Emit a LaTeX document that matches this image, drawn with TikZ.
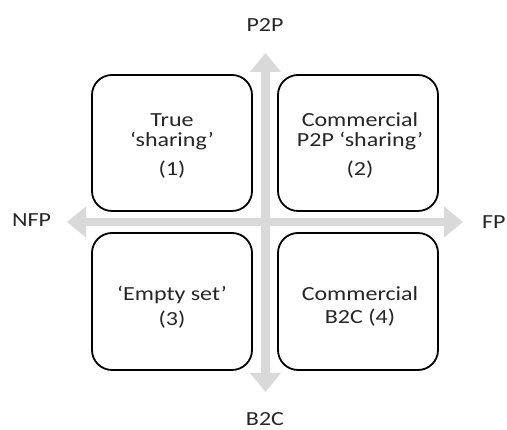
\documentclass[tikz,border=0pt]{standalone}
\usepackage{fontspec}
\setmainfont{Carlito}[FakeStretch=1.2]
\usetikzlibrary{arrows.meta}
\definecolor{axisgrey}{HTML}{D9D9D9}
\definecolor{txtgrey}{HTML}{262626}
\tikzset{
  quad/.style={draw=black, line width=1.8pt, rounded corners=20pt, fill=white,
    minimum width=160pt, minimum height=136pt, inner sep=0pt},
  qtext/.style={text=txtgrey, align=center, inner sep=0pt, anchor=north,
    font=\fontsize{20}{20}\selectfont},
  axlabel/.style={text=txtgrey, inner sep=0pt, anchor=base,
    font=\fontsize{20}{20}\selectfont},
  axis/.style={draw=axisgrey, line width=8.5pt,
    {Triangle[length=19pt,width=30pt]}-{Triangle[length=19pt,width=30pt]}}
}
\begin{document}
\begin{tikzpicture}[x=1pt,y=1pt]
\useasboundingbox (0,0) rectangle (507,430);
% axes
\coordinate (top) at (265.5,377);
\coordinate (bot) at (265.5,38);
\coordinate (lft) at (67,208);
\coordinate (rgt) at (463,208);
\draw[axis] (lft) -- (rgt);
\draw[axis] (bot) -- (top);
% quadrants
\node[quad] (q1) at (172,287) {};
\node[quad] (q2) at (358,287) {};
\node[quad, minimum height=137pt] (q3) at (172,128.5) {};
\node[quad, minimum height=137pt] (q4) at (358,128.5) {};
\node[qtext] (t1) at (172,317) {True\\‘sharing’\\[9pt](1)};
\node[qtext] (t2) at (360,317.5) {Commercial\\P2P ‘sharing’\\[9pt](2)};
\node[qtext] (t3) at (172,144) {‘Empty set’\\[5pt](3)};
\node[qtext] (t4) at (360,144) {Commercial\\[3pt]B2C (4)};
% axis labels
\node[axlabel] (p2p) at (265,398.5) {P2P};
\node[axlabel] (b2c) at (265,4) {B2C};
\node[axlabel, anchor=base west] (nfp) at (12,203) {NFP};
\node[axlabel, anchor=base west] (fp) at (482,201) {FP};
\end{tikzpicture}
\end{document}
